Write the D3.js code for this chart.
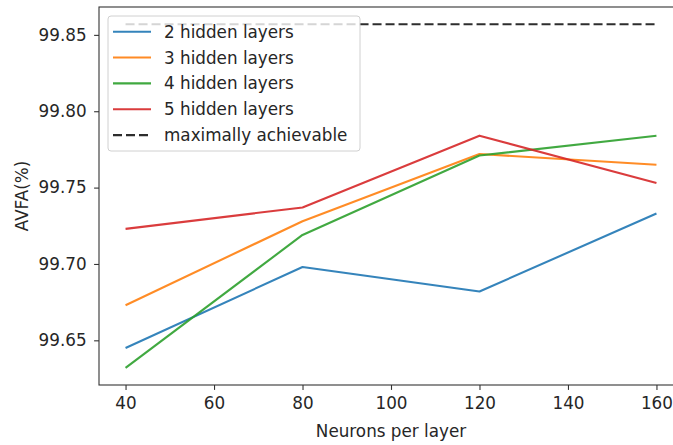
<!DOCTYPE html>
<html>
<head>
<meta charset="utf-8">
<script src="https://cdn.jsdelivr.net/npm/d3@7"></script>
<style>
  html, body { margin: 0; padding: 0; background: #fff; }
  svg { display: block; font-family: "DejaVu Sans", sans-serif; }
</style>
</head>
<body>
<svg id="chart" width="673" height="445"></svg>
<script>
// Neurons per layer on the x axis
const neurons = [40, 80, 120, 160];

// AVFA (%) for each network depth
const layers2 = [99.645, 99.698, 99.682, 99.733];
const layers3 = [99.673, 99.728, 99.772, 99.765];
const layers4 = [99.632, 99.719, 99.771, 99.784];
const layers5 = [99.723, 99.737, 99.784, 99.753];

// Upper bound line
const maxAchievable = [99.857, 99.857, 99.857, 99.857];

const seriesNames = ["2 hidden layers", "3 hidden layers", "4 hidden layers", "5 hidden layers", "maximally achievable"];
const seriesColors = ["#1f77b4", "#ff7f0e", "#2ca02c", "#d62728", "#222222"];

const xTicks = [40, 60, 80, 100, 120, 140, 160];
const yTicks = [99.65, 99.70, 99.75, 99.80, 99.85];

const svg = d3.select("#chart");
const m = { left: 99, right: 683, top: 7, bottom: 385 };

const allY = [].concat(layers2, layers3, layers4, layers5, maxAchievable);
const yMin = d3.min(allY), yMax = d3.max(allY);
const yPad = (yMax - yMin) * 0.05;
const xPad = (d3.max(neurons) - d3.min(neurons)) * 0.05;

const x = d3.scaleLinear()
  .domain([d3.min(neurons) - xPad, d3.max(neurons) + xPad])
  .range([m.left, m.right]);
const y = d3.scaleLinear()
  .domain([yMin - yPad, yMax + yPad])
  .range([m.bottom, m.top]);

const textColor = "#262626";
const fontSize = 16.8;

// Axes
const xAxis = svg.append("g")
  .attr("transform", `translate(0,${m.bottom})`)
  .call(d3.axisBottom(x).tickValues(xTicks).tickFormat(d3.format("d")).tickSizeOuter(0).tickSize(4.9).tickPadding(7.5));
const yAxis = svg.append("g")
  .attr("transform", `translate(${m.left},0)`)
  .call(d3.axisLeft(y).tickValues(yTicks).tickFormat(d3.format(".2f")).tickSizeOuter(0).tickSize(4.9).tickPadding(7.5));

[xAxis, yAxis].forEach(g => {
  g.select(".domain").remove();
  g.selectAll(".tick line").attr("stroke", "#333").attr("stroke-width", 1.1);
  g.selectAll(".tick text").attr("fill", textColor).attr("font-size", fontSize)
    .attr("font-family", "DejaVu Sans, sans-serif");
});

// Spines (right spine sits beyond the visible area)
svg.append("rect")
  .attr("x", m.left).attr("y", m.top)
  .attr("width", m.right - m.left).attr("height", m.bottom - m.top)
  .attr("fill", "none").attr("stroke", "#333").attr("stroke-width", 1.1);

// Axis titles
svg.append("text")
  .attr("x", (m.left + m.right) / 2).attr("y", 437)
  .attr("text-anchor", "middle").attr("fill", textColor).attr("font-size", fontSize)
  .text("Neurons per layer");
svg.append("text")
  .attr("transform", `translate(28,${(m.top + m.bottom) / 2}) rotate(-90)`)
  .attr("text-anchor", "middle").attr("fill", textColor).attr("font-size", fontSize)
  .text("AVFA(%)");

// Lines
const line = d3.line().x((d, i) => x(neurons[i])).y(d => y(d));
const series = [layers2, layers3, layers4, layers5, maxAchievable];
const plot = svg.append("g");
series.forEach((vals, i) => {
  plot.append("path")
    .datum(vals)
    .attr("d", line)
    .attr("fill", "none")
    .attr("stroke", seriesColors[i])
    .attr("stroke-width", 2.1)
    .attr("stroke-linejoin", "round")
    .attr("stroke-dasharray", i === 4 ? "9,4" : null)
    .attr("opacity", i === 4 ? 0.95 : 0.9);
});

// Legend
const lg = svg.append("g");
lg.append("rect")
  .attr("x", 108).attr("y", 16).attr("width", 252).attr("height", 135)
  .attr("rx", 3).attr("ry", 3)
  .attr("fill", "#fff").attr("fill-opacity", 0.8)
  .attr("stroke", "#d0d0d0").attr("stroke-width", 1);
seriesNames.forEach((name, i) => {
  const cy = 31.7 + i * 25.85;
  lg.append("line")
    .attr("x1", 113).attr("x2", 151).attr("y1", cy).attr("y2", cy)
    .attr("stroke", seriesColors[i]).attr("stroke-width", 2.1)
    .attr("stroke-dasharray", i === 4 ? "9,4" : null)
    .attr("opacity", i === 4 ? 0.95 : 0.9);
  lg.append("text")
    .attr("x", 164).attr("y", cy + 6)
    .attr("fill", textColor).attr("font-size", fontSize)
    .text(name);
});
</script>
</body>
</html>
